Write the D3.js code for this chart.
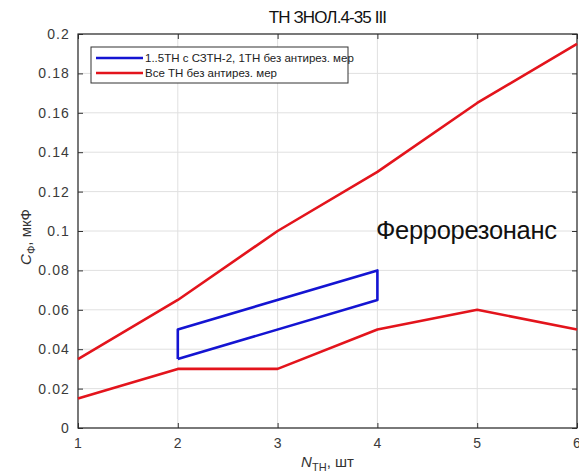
<!DOCTYPE html>
<html>
<head>
<meta charset="utf-8">
<script src="https://cdn.jsdelivr.net/npm/d3@7"></script>
<style>
  html, body { margin: 0; padding: 0; background: #fff; }
  svg { display: block; font-family: "Liberation Sans", Arial, sans-serif; }
</style>
</head>
<body>
<svg id="chart" width="579" height="473"></svg>
<script>
// Number of voltage transformers
const nValues = [1, 2, 3, 4, 5, 6];
// Upper and lower boundaries of the ferroresonance zone, all VT without anti-resonance measures
const allUpper = [0.035, 0.065, 0.1, 0.13, 0.165, 0.195];
const allLower = [0.015, 0.03, 0.03, 0.05, 0.06, 0.05];
// Closed zone for 1..5 VT with СЗТН-2 and one VT without measures
const zoneN = [2, 2, 4, 4, 2];
const zoneC = [0.035, 0.05, 0.08, 0.065, 0.035];

const xTicks = [1, 2, 3, 4, 5, 6];
const yTicks = [0, 0.02, 0.04, 0.06, 0.08, 0.1, 0.12, 0.14, 0.16, 0.18, 0.2];
const yTickLabels = ["0", "0.02", "0.04", "0.06", "0.08", "0.1", "0.12", "0.14", "0.16", "0.18", "0.2"];

const legendLabels = ["1..5ТН с СЗТН-2, 1ТН без антирез. мер", "Все ТН без антирез. мер"];
const colors = { blue: "#1414d2", red: "#e3141c" };

const svg = d3.select("#chart");
const m = { left: 78, right: 577, top: 34, bottom: 428 };

const x = d3.scaleLinear().domain([1, 6]).range([m.left, m.right]);
const y = d3.scaleLinear().domain([0, 0.2]).range([m.bottom, m.top]);

// grid
const grid = svg.append("g").attr("stroke", "#e0e0e0").attr("stroke-width", 1);
xTicks.forEach(t => grid.append("line")
  .attr("x1", x(t)).attr("x2", x(t)).attr("y1", m.top).attr("y2", m.bottom));
yTicks.forEach(t => grid.append("line")
  .attr("x1", m.left).attr("x2", m.right).attr("y1", y(t)).attr("y2", y(t)));

// axes with inward ticks on all four sides
const tickColor = "#333";
const axisStyle = g => {
  g.select(".domain").remove();
  g.selectAll(".tick line").attr("stroke", tickColor);
  g.selectAll(".tick text").attr("fill", "#3a3a3a").attr("font-size", 14).attr("letter-spacing", 1.1);
};
svg.append("g").attr("transform", `translate(0,${m.bottom})`)
  .call(d3.axisBottom(x).tickValues(xTicks).tickFormat(d3.format("d")).tickSizeInner(-5).tickPadding(10))
  .call(axisStyle);
svg.append("g").attr("transform", `translate(${m.left},0)`)
  .call(d3.axisLeft(y).tickValues(yTicks).tickFormat((d, i) => yTickLabels[i]).tickSizeInner(-5).tickPadding(8))
  .call(axisStyle);
svg.append("g").attr("transform", `translate(0,${m.top})`)
  .call(d3.axisTop(x).tickValues(xTicks).tickFormat("").tickSizeInner(-5))
  .call(axisStyle);
svg.append("g").attr("transform", `translate(${m.right},0)`)
  .call(d3.axisRight(y).tickValues(yTicks).tickFormat("").tickSizeInner(-5))
  .call(axisStyle);

svg.append("rect")
  .attr("x", m.left).attr("y", m.top)
  .attr("width", m.right - m.left).attr("height", m.bottom - m.top)
  .attr("fill", "none").attr("stroke", "#2a2a2a").attr("stroke-width", 1.2);

// curves
const line = d3.line().x(d => x(d[0])).y(d => y(d[1]));
const plot = svg.append("g");
plot.append("path")
  .datum(nValues.map((n, i) => [n, allUpper[i]]))
  .attr("d", line).attr("fill", "none").attr("stroke", colors.red).attr("stroke-width", 2.6)
  .attr("stroke-linejoin", "round");
plot.append("path")
  .datum(nValues.map((n, i) => [n, allLower[i]]))
  .attr("d", line).attr("fill", "none").attr("stroke", colors.red).attr("stroke-width", 2.6)
  .attr("stroke-linejoin", "round");
plot.append("path")
  .datum(zoneN.map((n, i) => [n, zoneC[i]]))
  .attr("d", line).attr("fill", "none").attr("stroke", colors.blue).attr("stroke-width", 2.6)
  .attr("stroke-linejoin", "round");

// zone label
svg.append("text")
  .attr("x", 376).attr("y", 239)
  .attr("font-size", 25.5).attr("fill", "#111")
  .attr("letter-spacing", -0.3)
  .text("Феррорезонанс");

// legend
const lg = svg.append("g").attr("transform", "translate(91,47)");
lg.append("rect").attr("width", 257).attr("height", 36)
  .attr("fill", "#fff").attr("stroke", "#333").attr("stroke-width", 1);
[colors.blue, colors.red].forEach((c, i) => {
  const yy = 11 + i * 15;
  lg.append("line").attr("x1", 5).attr("x2", 52).attr("y1", yy).attr("y2", yy)
    .attr("stroke", c).attr("stroke-width", 2.6);
  lg.append("text").attr("x", 54).attr("y", yy + 4)
    .attr("font-size", 11.5).attr("fill", "#222").text(legendLabels[i]);
});

// title
svg.append("text")
  .attr("x", (m.left + m.right) / 2).attr("y", 23)
  .attr("text-anchor", "middle").attr("font-size", 17).attr("fill", "#111")
  .attr("letter-spacing", -0.9)
  .text("ТН ЗНОЛ.4-35 III");

// axis titles
const xl = svg.append("text")
  .attr("x", (m.left + m.right) / 2).attr("y", 467)
  .attr("text-anchor", "middle").attr("font-size", 15).attr("fill", "#333");
xl.append("tspan").attr("font-style", "italic").text("N");
xl.append("tspan").attr("font-size", 11).attr("dy", 4).text("ТН");
xl.append("tspan").attr("dy", -4).text(", шт");

const yl = svg.append("text")
  .attr("transform", `translate(31,${(m.top + m.bottom) / 2 + 6}) rotate(-90)`)
  .attr("text-anchor", "middle").attr("font-size", 15).attr("fill", "#333");
yl.append("tspan").attr("font-style", "italic").text("C");
yl.append("tspan").attr("font-size", 11).attr("dy", 4).text("Ф");
yl.append("tspan").attr("dy", -4).text(", мкФ");
</script>
</body>
</html>
